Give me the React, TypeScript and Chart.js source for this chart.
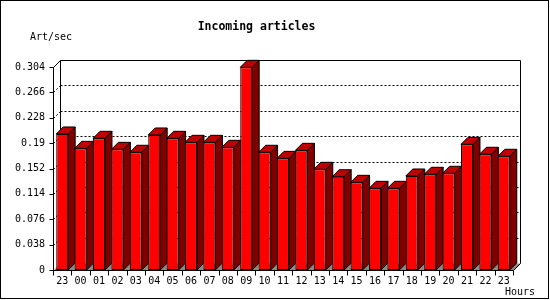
import React, { useEffect, useRef } from "react";
import { Chart, registerables } from "chart.js";

Chart.register(...registerables);

const hours = ["23", "00", "01", "02", "03", "04", "05", "06", "07", "08", "09", "10", "11", "12", "13", "14", "15", "16", "17", "18", "19", "20", "21", "22", "23"];
const artPerSec = [0.2037, 0.1822, 0.1972, 0.1807, 0.1763, 0.2022, 0.1972, 0.1912, 0.1912, 0.1837, 0.3035, 0.1763, 0.1672, 0.1792, 0.1508, 0.1397, 0.1313, 0.1223, 0.1223, 0.1408, 0.1433, 0.1448, 0.1882, 0.1733, 0.1703];
const yTickValues = [0, 0.038, 0.076, 0.114, 0.152, 0.19, 0.228, 0.266, 0.304];
const yTickLabels = ["0", "0.038", "0.076", "0.114", "0.152", "0.19", "0.228", "0.266", "0.304"];
const titleText = "Incoming articles";
const yAxisTitle = "Art/sec";
const xAxisTitle = "Hours";

const DEPTH = 7;
const FRONT = "#ff0000";
const SIDE = "#800000";
const TOPC = "#c00000";
const FLOOR = "#8a8a8a";
const MONO = "'DejaVu Sans Mono', monospace";

function poly(ctx: CanvasRenderingContext2D, pts: number[][], fill: string | null, stroke = true) {
  ctx.beginPath();
  ctx.moveTo(pts[0][0], pts[0][1]);
  for (let i = 1; i < pts.length; i++) ctx.lineTo(pts[i][0], pts[i][1]);
  ctx.closePath();
  if (fill) {
    ctx.fillStyle = fill;
    ctx.fill();
  }
  if (stroke) ctx.stroke();
}

function line(ctx: CanvasRenderingContext2D, x1: number, y1: number, x2: number, y2: number) {
  ctx.beginPath();
  ctx.moveTo(x1, y1);
  ctx.lineTo(x2, y2);
  ctx.stroke();
}

const threeD = {
  id: "threeD",
  beforeDatasetsDraw(chart: any) {
    const { ctx, chartArea: a, scales } = chart;
    const y = scales.y;
    const D = DEPTH;
    const L = Math.round(a.left) + 0.5;
    const R = Math.round(a.right) + 0.5;
    const T = Math.round(a.top) + 0.5;
    const B = Math.round(a.bottom) + 0.5;
    ctx.save();
    ctx.strokeStyle = "#000";
    ctx.lineWidth = 1;
    ctx.setLineDash([2, 2]);
    for (const v of yTickValues) {
      if (v === 0 || v === yTickValues[yTickValues.length - 1]) continue;
      const py = Math.round(y.getPixelForValue(v)) + 0.5;
      line(ctx, L + D, py - D, R + D, py - D);
      line(ctx, L, py, L + D, py - D);
    }
    ctx.setLineDash([]);
    line(ctx, L + D, T - D, R + D, T - D);
    line(ctx, R + D, T - D, R + D, B - D);
    line(ctx, L + D, T - D, L + D, B - D);
    line(ctx, L, T, L + D, T - D);
    ctx.fillStyle = FLOOR;
    ctx.beginPath();
    ctx.moveTo(L, B);
    ctx.lineTo(L + D, B - D);
    ctx.lineTo(R + D, B - D);
    ctx.lineTo(R, B);
    ctx.closePath();
    ctx.fill();
    line(ctx, R + D, B - D, R, B);
    const meta = chart.getDatasetMeta(0);
    meta.data.forEach((bar: any) => {
      const p = bar.getProps(["x", "y", "base", "width"], true);
      const l = p.x - p.width / 2;
      const r = p.x + p.width / 2;
      poly(ctx, [[r, p.y], [r + D, p.y - D], [r + D, p.base - D], [r, p.base]], SIDE);
      poly(ctx, [[l, p.y], [l + D, p.y - D], [r + D, p.y - D], [r, p.y]], TOPC);
    });
    ctx.restore();
  },
  afterDatasetsDraw(chart: any) {
    const { ctx, chartArea: a, scales } = chart;
    const x = scales.x;
    const y = scales.y;
    const L = Math.round(a.left) + 0.5;
    const R = Math.round(a.right) + 0.5;
    const T = Math.round(a.top) + 0.5;
    const B = Math.round(a.bottom) + 0.5;
    ctx.save();
    ctx.strokeStyle = "#000";
    ctx.lineWidth = 1;
    line(ctx, L, T, L, B);
    line(ctx, L, B, R, B);
    for (const v of yTickValues) {
      const py = Math.round(y.getPixelForValue(v)) + 0.5;
      line(ctx, L - 4, py, L, py);
    }
    const n = hours.length;
    const step = (a.right - a.left) / n;
    for (let i = 0; i <= n; i++) {
      const px = Math.round(x.getPixelForValue(0) - step / 2 + i * step) + 0.5;
      line(ctx, px, B, px, B + 5);
    }
    ctx.strokeRect(0.5, 0.5, 548, 298);
    ctx.fillStyle = "#000";
    ctx.font = `10px ${MONO}`;
    ctx.textBaseline = "middle";
    ctx.textAlign = "left";
    ctx.fillText(yAxisTitle, 30, 37);
    ctx.fillText(xAxisTitle, 505, 292);
    ctx.restore();
  },
};

export default function App() {
  const ref = useRef<HTMLCanvasElement | null>(null);
  useEffect(() => {
    document.body.style.margin = "0";
    const canvas = ref.current;
    if (!canvas) return;
    const chart = new Chart(canvas, {
      type: "bar",
      data: {
        labels: hours,
        datasets: [
          {
            data: artPerSec,
            backgroundColor: FRONT,
            borderColor: "#000",
            borderWidth: 1,
            borderSkipped: false,
            barPercentage: 1,
            categoryPercentage: 0.65,
            clip: false as any,
          },
        ],
      },
      options: {
        responsive: false,
        animation: false,
        devicePixelRatio: 1,
        layout: { padding: { left: 0, right: 37, top: 0, bottom: 0 } },
        plugins: {
          legend: { display: false },
          tooltip: { enabled: false },
          title: {
            display: true,
            text: titleText,
            color: "#000",
            font: { family: MONO, size: 11.5, weight: "bold" },
            padding: { top: 20, bottom: 33.2 },
          },
        },
        scales: {
          x: {
            offset: true,
            grid: { display: false, drawTicks: false },
            border: { display: false },
            ticks: { color: "#000", font: { family: MONO, size: 10 }, padding: 5, maxRotation: 0, autoSkip: false },
            afterFit: (s: any) => {
              s.height = 30;
            },
          },
          y: {
            min: 0,
            max: 0.304,
            grid: { display: false, drawTicks: false },
            border: { display: false },
            afterBuildTicks: (s: any) => {
              s.ticks = yTickValues.map((v) => ({ value: v }));
            },
            ticks: {
              color: "#000",
              font: { family: MONO, size: 10 },
              padding: 8,
              callback: (_v: any, i: number) => yTickLabels[i],
            },
            afterFit: (s: any) => {
              s.width = 53;
            },
          },
        },
      },
      plugins: [threeD],
    });
    return () => chart.destroy();
  }, []);
  return (
    <div style={{ width: 550, height: 300 }}>
      <canvas ref={ref} width={550} height={300} style={{ display: "block" }} />
    </div>
  );
}
